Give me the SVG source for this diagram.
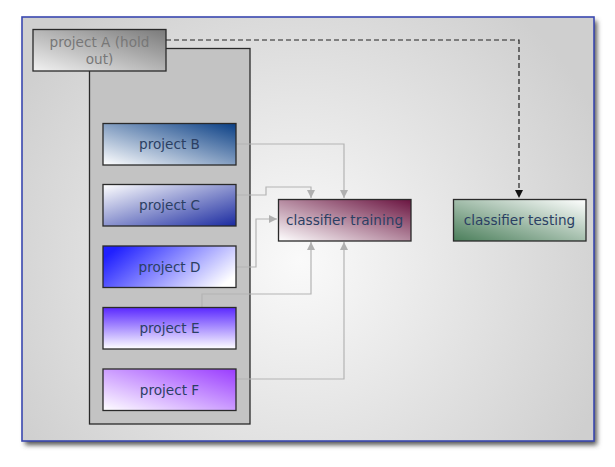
<svg xmlns="http://www.w3.org/2000/svg" width="615" height="467" viewBox="0 0 615 467">
<defs>
<radialGradient id="gFrame" cx="300" cy="260" r="330" gradientUnits="userSpaceOnUse">
<stop offset="0" stop-color="#fafafa"/><stop offset="1" stop-color="#cfcfcf"/>
</radialGradient>
<filter id="sh" x="-5%" y="-5%" width="115%" height="115%">
<feGaussianBlur stdDeviation="2.5"/>
</filter>
<linearGradient id="gA" x1="0" y1="1" x2="1" y2="0"><stop offset="0" stop-color="#f2f2f2"/><stop offset="1" stop-color="#7a7a7a"/></linearGradient>
<linearGradient id="gB" x1="0" y1="1" x2="1" y2="0"><stop offset="0" stop-color="#ffffff"/><stop offset="1" stop-color="#0a3f85"/></linearGradient>
<linearGradient id="gC" x1="0" y1="0" x2="1" y2="1"><stop offset="0" stop-color="#ffffff"/><stop offset="1" stop-color="#1a2aa0"/></linearGradient>
<linearGradient id="gD" x1="0" y1="0.3" x2="1" y2="0.7"><stop offset="0" stop-color="#2020ff"/><stop offset="1" stop-color="#ffffff"/></linearGradient>
<linearGradient id="gE" x1="0" y1="0" x2="0" y2="1"><stop offset="0" stop-color="#5a28ff"/><stop offset="1" stop-color="#ffffff"/></linearGradient>
<linearGradient id="gF" x1="0" y1="1" x2="1" y2="0"><stop offset="0" stop-color="#ffffff"/><stop offset="1" stop-color="#9a3cff"/></linearGradient>
<linearGradient id="gT" x1="0" y1="1" x2="1" y2="0"><stop offset="0" stop-color="#ffffff"/><stop offset="1" stop-color="#6a1440"/></linearGradient>
<linearGradient id="gS" x1="0" y1="1" x2="1" y2="0"><stop offset="0" stop-color="#4a7e5a"/><stop offset="1" stop-color="#ffffff"/></linearGradient>
<marker id="arG" markerWidth="8" markerHeight="8" refX="8" refY="4" orient="auto" markerUnits="userSpaceOnUse">
<path d="M0,0 L8,4 L0,8 Z" fill="#b0b0b0"/>
</marker>
<marker id="arK" markerWidth="8" markerHeight="8" refX="8" refY="4" orient="auto" markerUnits="userSpaceOnUse">
<path d="M0,0 L8,4 L0,8 Z" fill="#111"/>
</marker>
</defs>
<style>
.box{stroke:#2a2a2a;stroke-width:1.3}
.t{font-family:"DejaVu Sans",Verdana,sans-serif;font-size:13.6px;fill:#2b3f63;text-anchor:middle}
.ta{font-family:"DejaVu Sans",Verdana,sans-serif;font-size:13.6px;fill:#777;text-anchor:middle}
.c{fill:none;stroke:#b4b4b4;stroke-width:1.2}
</style>
<rect x="25" y="21" width="572" height="424" fill="#555" filter="url(#sh)"/>
<rect x="22" y="17" width="572" height="424" fill="url(#gFrame)" stroke="#3a48b0" stroke-width="1.6"/>
<g id="holdout-group">
<rect x="89.5" y="48.5" width="160.5" height="375.5" fill="#c3c3c3" stroke="#2a2a2a" stroke-width="1.3"/>
</g>
<g id="connectors">
<path class="c" d="M236,144 H344 V198" marker-end="url(#arG)"/>
<path class="c" d="M236,195 H266 V187 H311 V198" marker-end="url(#arG)"/>
<path class="c" d="M236,267 H256 V219 H277" marker-end="url(#arG)"/>
<path class="c" d="M202,307 V294 H311 V242" marker-end="url(#arG)"/>
<path class="c" d="M236,379 H344 V242" marker-end="url(#arG)"/>
<path d="M166,40 H519 V198" fill="none" stroke="#222" stroke-width="1.2" stroke-dasharray="5,3" marker-end="url(#arK)"/>
</g>
<g id="projectA">
<rect class="box" x="33" y="29.5" width="133" height="41.5" fill="url(#gA)"/>
<text class="ta" x="99.5" y="47">project A (hold</text>
<text class="ta" x="99.5" y="64">out)</text>
</g>
<g id="projectB">
<rect class="box" x="103" y="123.5" width="133" height="41.5" fill="url(#gB)"/>
<text class="t" x="169.5" y="149">project B</text>
</g>
<g id="projectC">
<rect class="box" x="103" y="184.5" width="133" height="41.5" fill="url(#gC)"/>
<text class="t" x="169.5" y="210">project C</text>
</g>
<g id="projectD">
<rect class="box" x="103" y="246" width="133" height="41.5" fill="url(#gD)"/>
<text class="t" x="169.5" y="272">project D</text>
</g>
<g id="projectE">
<rect class="box" x="103" y="307.5" width="133" height="41.5" fill="url(#gE)"/>
<text class="t" x="169.5" y="333">project E</text>
</g>
<g id="projectF">
<rect class="box" x="103" y="369" width="133" height="41.5" fill="url(#gF)"/>
<text class="t" x="169.5" y="394.5">project F</text>
</g>
<g id="training">
<rect class="box" x="278.5" y="199.5" width="132.5" height="41.5" fill="url(#gT)"/>
<text class="t" x="344.5" y="225">classifier training</text>
</g>
<g id="testing">
<rect class="box" x="453.5" y="199.5" width="132.5" height="41.5" fill="url(#gS)"/>
<text class="t" x="519.5" y="225">classifier testing</text>
</g>
</svg>
